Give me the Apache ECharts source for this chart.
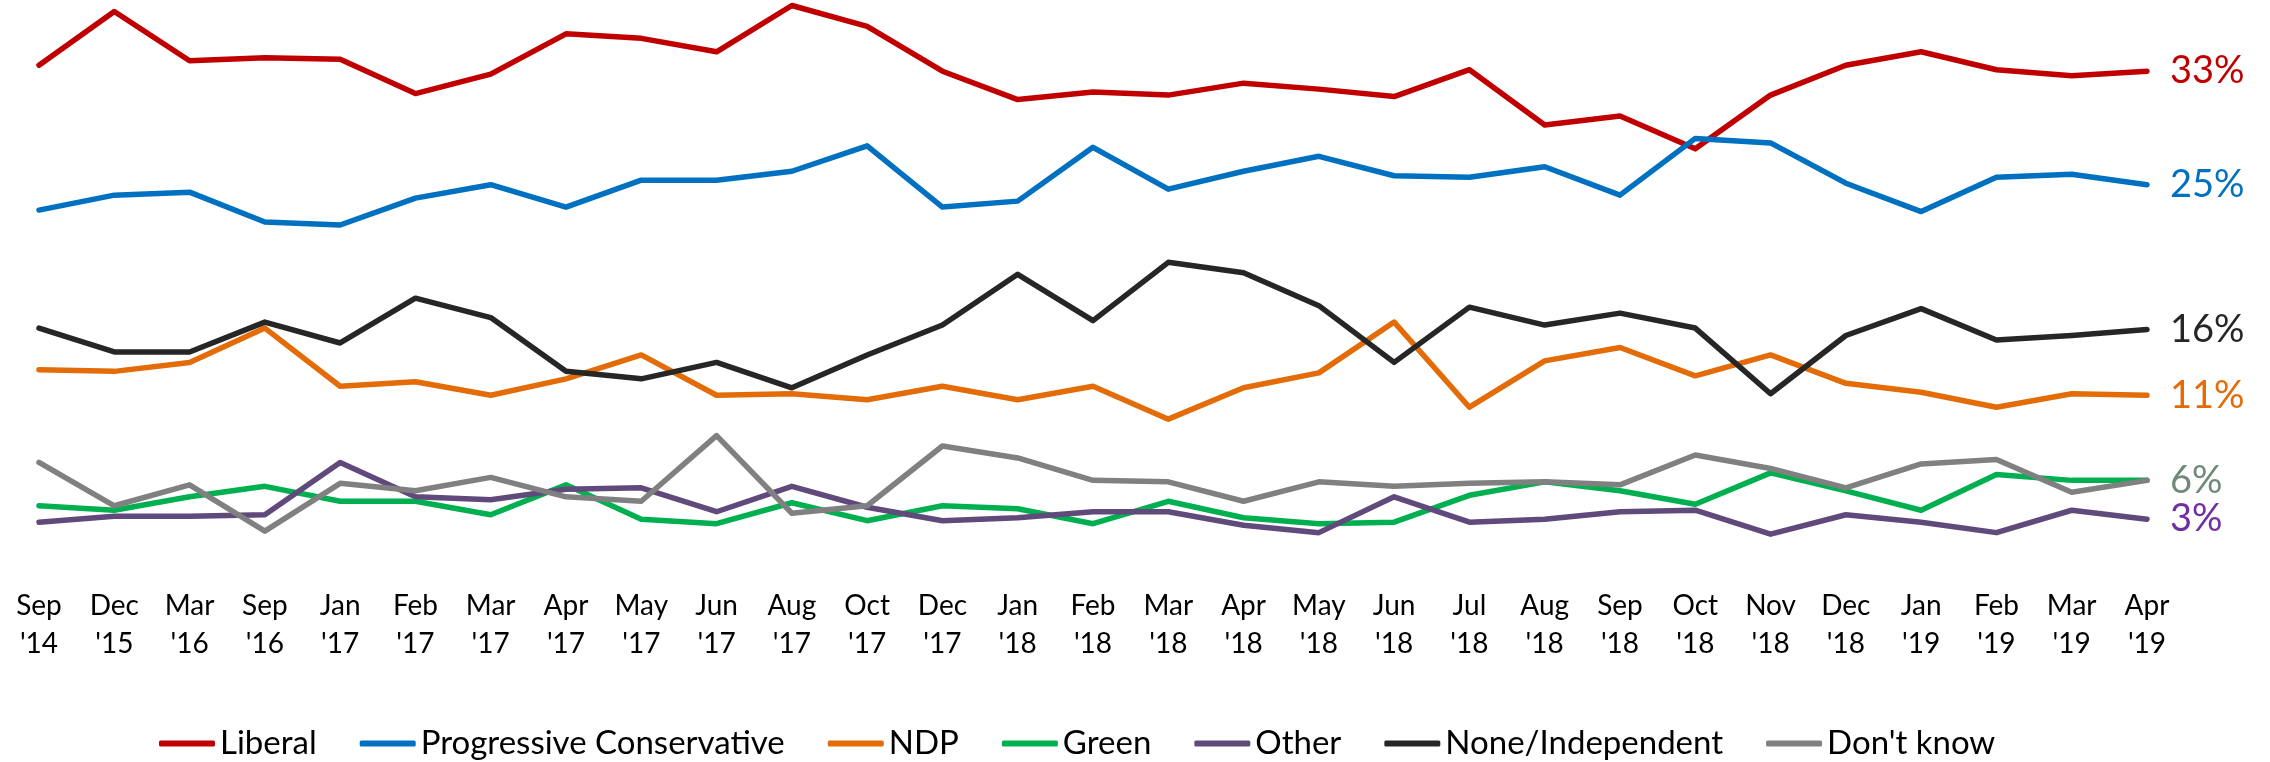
<!DOCTYPE html>
<html>
<head>
<meta charset="utf-8">
<script src="https://cdn.jsdelivr.net/npm/echarts@6/dist/echarts.min.js"></script>
<style>
html,body{margin:0;padding:0;background:#fff;}
#chart{width:2270px;height:762px;}
</style>
</head>
<body>
<div id="chart"></div>
<script>
var categories = ["Sep '14","Dec '15","Mar '16","Sep '16","Jan '17","Feb '17","Mar '17","Apr '17","May '17","Jun '17","Aug '17","Oct '17","Dec '17","Jan '18","Feb '18","Mar '18","Apr '18","May '18","Jun '18","Jul '18","Aug '18","Sep '18","Oct '18","Nov '18","Dec '18","Jan '19","Feb '19","Mar '19","Apr '19"];

var liberal = [33.4,37.0,33.7,33.9,33.8,31.5,32.8,35.5,35.2,34.3,37.4,36.0,33.0,31.1,31.6,31.4,32.2,31.8,31.3,33.1,29.4,30.0,27.8,31.4,33.4,34.3,33.1,32.7,33.0];
var progressiveConservative = [23.7,24.7,24.9,22.9,22.7,24.5,25.4,23.9,25.7,25.7,26.3,28.0,23.9,24.3,27.9,25.1,26.3,27.3,26.0,25.9,26.6,24.7,28.5,28.2,25.5,23.6,25.9,26.1,25.4];
var ndp = [13.0,12.9,13.5,15.8,11.9,12.2,11.3,12.4,14.0,11.3,11.4,11.0,11.9,11.0,11.9,9.7,11.8,12.8,16.2,10.5,13.6,14.5,12.6,14.0,12.1,11.5,10.5,11.4,11.3];
var green = [3.9,3.6,4.5,5.2,4.2,4.2,3.3,5.3,3.0,2.7,4.1,2.9,3.9,3.7,2.7,4.2,3.1,2.7,2.8,4.6,5.5,4.9,4.0,6.1,4.9,3.6,6.0,5.6,5.6];
var other = [2.8,3.2,3.2,3.3,6.8,4.5,4.3,5.0,5.1,3.5,5.2,3.8,2.9,3.1,3.5,3.5,2.6,2.1,4.5,2.8,3.0,3.5,3.6,2.0,3.3,2.8,2.1,3.6,3.0];
var noneIndependent = [15.8,14.2,14.2,16.2,14.8,17.8,16.5,12.9,12.4,13.5,11.8,14.0,16.0,19.4,16.3,20.2,19.5,17.3,13.5,17.2,16.0,16.8,15.8,11.4,15.3,17.1,15.0,15.3,15.7];
var dontKnow = [6.8,3.9,5.3,2.2,5.4,4.9,5.8,4.5,4.2,8.6,3.4,3.9,7.9,7.1,5.6,5.5,4.2,5.5,5.2,5.4,5.5,5.3,7.3,6.4,5.1,6.7,7.0,4.8,5.6];

var FONT = 'Lato, "Noto Sans", sans-serif';

function mkSeries(name, data, color, labelColor) {
  var s = {
    name: name,
    type: 'line',
    data: data,
    showSymbol: false,
    symbol: 'none',
    lineStyle: { color: color, width: 5.5, cap: 'round', join: 'round' },
    itemStyle: { color: color },
    emphasis: { disabled: true },
    animation: false
  };
  if (labelColor) {
    s.endLabel = {
      show: true,
      distance: 23,
      color: labelColor,
      fontFamily: FONT,
      fontSize: 38,
      formatter: function (p) { return Math.round(p.value) + '%'; }
    };
  }
  return s;
}

var chart = echarts.init(document.getElementById('chart'), null, { renderer: 'canvas' });
chart.setOption({
  backgroundColor: '#ffffff',
  animation: false,
  grid: { left: 39, right: 123, top: 4, bottom: 198, containLabel: false },
  xAxis: {
    type: 'category',
    boundaryGap: false,
    data: categories,
    axisLine: { show: false },
    axisTick: { show: false },
    splitLine: { show: false },
    axisLabel: {
      interval: 0,
      margin: 23,
      color: '#000000',
      fontFamily: FONT,
      fontSize: 28,
      lineHeight: 38,
      formatter: function (v) { return v.replace(' ', '\n'); }
    }
  },
  yAxis: {
    type: 'value',
    min: 0,
    max: 37.5,
    show: false
  },
  legend: {
    top: 722,
    left: 154,
    itemGap: 43,
    itemWidth: 56,
    itemHeight: 6,
    icon: 'roundRect',
    textStyle: { fontFamily: FONT, fontSize: 33, color: '#000000' },
    data: ['Liberal','Progressive Conservative','NDP','Green','Other','None/Independent',"Don't know"]
  },
  series: [
    mkSeries('Liberal', liberal, '#C00000', '#C00000'),
    mkSeries('Progressive Conservative', progressiveConservative, '#0070C0', '#0070C0'),
    mkSeries('NDP', ndp, '#E36C09', '#E36C09'),
    mkSeries('Green', green, '#00B050', null),
    mkSeries('Other', other, '#604A7B', '#7030A0'),
    mkSeries('None/Independent', noneIndependent, '#262626', '#262626'),
    mkSeries("Don't know", dontKnow, '#808080', '#6F8A78')
  ]
});
</script>
</body>
</html>
